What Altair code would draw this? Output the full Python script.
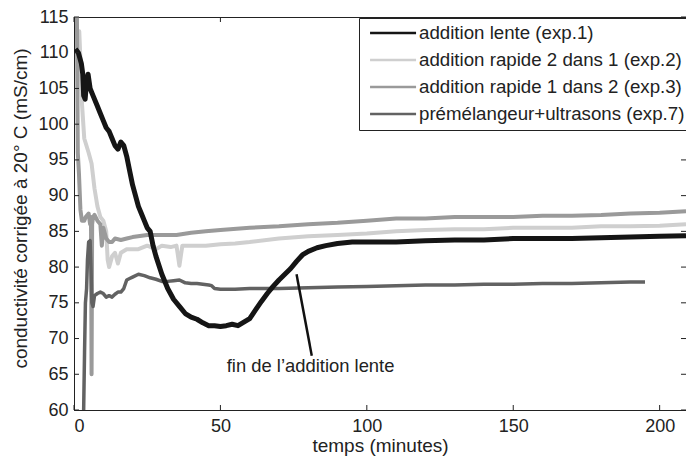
import altair as alt
import pandas as pd

# ---------------- data ----------------
series_names = [
    "addition lente (exp.1)",
    "addition rapide 2 dans 1 (exp.2)",
    "addition rapide 1 dans 2 (exp.3)",
    "prémélangeur+ultrasons (exp.7)",
]
series_colors = ["#151515", "#cfcfcf", "#9a9a9a", "#626262"]

t1 = [0.5, 1.5, 2.5, 3.0, 3.3, 3.8, 4.3, 4.8, 5.5, 6.5, 8, 9, 10, 11, 12, 13, 14, 15, 16, 17,
      18, 19, 20, 21, 22, 23, 24, 25, 26, 27, 28, 30, 32, 34, 36, 38, 40, 42, 44, 46,
      48, 50, 52, 54, 56, 58, 60, 62, 64, 66, 68, 70, 72, 74, 76, 78, 80, 83, 86, 90,
      95, 100, 110, 120, 130, 140, 150, 160, 170, 180, 190, 200, 209]
v1 = [110.5, 110, 108.5, 107, 104, 103.5, 106, 107, 105, 104, 102.5, 101.5, 100.5, 99.5, 99, 98, 97, 96.5, 97.5, 97,
      95.5, 93.5, 91.5, 90, 88.5, 87.5, 86.5, 85.5, 85, 83, 81.5, 79, 77, 75.5, 74.5, 73.5, 73, 72.7, 72.2, 71.8,
      71.8, 71.7, 71.8, 72, 71.8, 72.3, 72.8, 74, 75.2, 76.3, 77.3, 78.2, 79, 79.8, 80.8, 81.7, 82.2, 82.7, 83, 83.3,
      83.5, 83.5, 83.5, 83.7, 83.8, 83.8, 84, 84, 84, 84.1, 84.2, 84.3, 84.4]

t2 = [1, 1.8, 2.3, 2.7, 3.5, 5, 6, 7, 8, 9, 10, 11, 11.5, 12, 13, 14, 15, 16, 18, 20,
      22, 25, 28, 30, 33, 35, 36, 37, 40, 45, 50, 55, 60, 70, 80, 90, 100, 110, 120, 130,
      140, 150, 160, 170, 180, 190, 200, 209]
v2 = [113, 113, 108, 103, 98, 96, 94.5, 91, 88.5, 87, 86.5, 85, 81, 80, 81.5, 82, 80.5, 82, 82.5, 82.5,
      82.5, 83, 82.5, 83, 82.8, 83, 80.2, 83, 83, 83, 83.2, 83.3, 83.5, 84, 84.3, 84.5, 84.7, 85, 85.2, 85.3,
      85.3, 85.5, 85.5, 85.5, 85.7, 85.7, 85.8, 86]

t3 = [0.5, 1, 1.3, 1.7, 2.2, 2.7, 3.5, 4, 5, 5.5, 5.8, 6, 6.2, 6.5, 7, 8, 9, 9.5, 10, 11,
      12, 13, 14, 16, 18, 20, 25, 30, 35, 40, 45, 50, 60, 70, 80, 90, 100, 110, 120, 130,
      140, 150, 160, 170, 180, 190, 200, 209]
v3 = [115, 115, 96, 93, 88, 86.5, 86.5, 87, 87.5, 86, 87, 65, 86, 87, 87.3, 86.5, 86, 83, 85.5, 84,
      83.5, 83.5, 84, 83.8, 84, 84.2, 84.5, 84.5, 84.5, 84.8, 85, 85.2, 85.5, 85.7, 86, 86.2, 86.5, 86.8, 86.8, 87,
      87, 87, 87.2, 87.2, 87.3, 87.5, 87.6, 87.8]

t7 = [3.3, 3.6, 3.9, 4.3, 4.6, 5, 5.5, 5.8, 6.1, 6.5, 7, 8, 9, 10, 11, 12, 13, 14, 15, 16,
      17, 18, 19, 20, 22, 24, 26, 28, 30, 32, 34, 36, 38, 40, 42, 44, 46, 47, 48, 50,
      55, 60, 70, 80, 90, 100, 110, 120, 130, 140, 150, 160, 170, 180, 190, 195]
v7 = [60, 68, 75, 77, 81, 83.5, 83.7, 80, 75, 74.5, 76, 76.3, 76.5, 76.3, 75.8, 76, 75.8, 76.2, 76.5, 76.5,
      77, 78.2, 78.4, 78.6, 79, 78.8, 78.5, 78.3, 78, 78, 78.1, 78.2, 77.8, 77.7, 77.7, 77.6, 77.5, 77.4, 77, 76.9,
      76.9, 77, 77, 77.1, 77.2, 77.3, 77.4, 77.5, 77.5, 77.6, 77.6, 77.7, 77.7, 77.8, 77.9, 77.9]

x_ticks = [0, 50, 100, 150, 200]
y_ticks = [60, 65, 70, 75, 80, 85, 90, 95, 100, 105, 110, 115]

annot_text = "fin de l\u2019addition lente"
annot_text_pos = [80.8, 66.2]
annot_arrow = [81.2, 67.6, 76.0, 79.0]  # x, y (start near text) -> x2, y2 (on curve)

# ---------------- build tables ----------------
frames = []
for name, ts, vs in zip(series_names, [t1, t2, t3, t7], [v1, v2, v3, v7]):
    frames.append(pd.DataFrame({"minute": ts, "value": vs, "serie": name}))
df = pd.concat(frames, ignore_index=True)

FONT = "Liberation Sans"
FS_LAB = 18
FS_TITLE = 19
FS_LEG = 18.7
FS_ANN = 18.4
W, H = 612, 393

xscale = alt.Scale(domain=[0, 209], nice=False, zero=False)
yscale = alt.Scale(domain=[60, 115], nice=False, zero=False)
cscale = alt.Scale(domain=series_names, range=series_colors)

x_axis = alt.Axis(title="temps (minutes)", values=x_ticks, ticks=False, grid=False,
                  labelPadding=7, titlePadding=1, format="d")
y_axis = alt.Axis(title="conductivité corrigée à 20° C (mS/cm)", values=y_ticks,
                  ticks=False, grid=False, labelPadding=6, titlePadding=7, format="d",
                  titleY=191)

legend = alt.Legend(
    title=None, orient="none", legendX=285, legendY=1,
    symbolType="M-4.6,0H4.6", symbolSize=100, symbolStrokeWidth=2.5,
    symbolOffset=19, labelOffset=16.6,
    labelFont=FONT, labelFontSize=FS_LEG, labelColor="#222",
    strokeColor="#222", fillColor="white", padding=5.7,
    rowPadding=7, cornerRadius=0, labelLimit=400,
)

def X(field):
    return alt.X(field, scale=xscale, axis=x_axis)

def Y(field):
    return alt.Y(field, scale=yscale, axis=y_axis)

def line_layer(name, width, with_legend):
    return alt.Chart(df).transform_filter(alt.datum.serie == name).mark_line(
        strokeWidth=width, clip=True, strokeJoin="round"
    ).encode(
        x=X("minute:Q"), y=Y("value:Q"),
        color=alt.Color("serie:N", scale=cscale, legend=legend if with_legend else None),
    )

l2 = line_layer(series_names[1], 4.0, True)
l3 = line_layer(series_names[2], 4.0, False)
l7 = line_layer(series_names[3], 3.5, False)
l1 = line_layer(series_names[0], 5.0, False)

# inward ticks (MATLAB style)
xt = pd.DataFrame({"minute": x_ticks})
yt = pd.DataFrame({"value": y_ticks})
tick_col = "#222"
xt_bottom = alt.Chart(xt).mark_rule(color=tick_col, strokeWidth=1).encode(
    x=X("minute:Q"), y=alt.value(H), y2=alt.value(H - 5))
xt_top = alt.Chart(xt).mark_rule(color=tick_col, strokeWidth=1).encode(
    x=X("minute:Q"), y=alt.value(0), y2=alt.value(5))
yt_left = alt.Chart(yt).mark_rule(color=tick_col, strokeWidth=1).encode(
    y=Y("value:Q"), x=alt.value(0), x2=alt.value(5))
yt_right = alt.Chart(yt).mark_rule(color=tick_col, strokeWidth=1).encode(
    y=Y("value:Q"), x=alt.value(W), x2=alt.value(W - 5))

ann_df = pd.DataFrame({"minute": [annot_arrow[0]], "value": [annot_arrow[1]],
                       "minute2": [annot_arrow[2]], "value2": [annot_arrow[3]]})
arrow = alt.Chart(ann_df).mark_rule(color="#111", strokeWidth=2.5).encode(
    x=X("minute:Q"), y=Y("value:Q"), x2="minute2:Q", y2="value2:Q")
txt_df = pd.DataFrame({"minute": [annot_text_pos[0]], "value": [annot_text_pos[1]],
                       "label": [annot_text]})
txt = alt.Chart(txt_df).mark_text(font=FONT, fontSize=FS_ANN, color="#222", align="center",
                                  baseline="middle").encode(
    x=X("minute:Q"), y=Y("value:Q"), text="label:N")

chart = alt.layer(l2, l3, l7, l1, arrow, txt, xt_bottom, xt_top, yt_left, yt_right).properties(
    width=W, height=H,
    autosize=alt.AutoSizeParams(type="none"),
    padding={"left": 74, "top": 17, "right": 0, "bottom": 47},
    background="white",
).configure_view(stroke="#222", strokeWidth=1).configure_axis(
    labelFont=FONT, labelFontSize=FS_LAB, labelColor="#222",
    titleFont=FONT, titleFontSize=FS_TITLE, titleColor="#222", titleFontWeight="normal",
    domainColor="#222", domainWidth=1,
)

chart.save("out.html", embed_options={"renderer": "svg", "actions": False})
